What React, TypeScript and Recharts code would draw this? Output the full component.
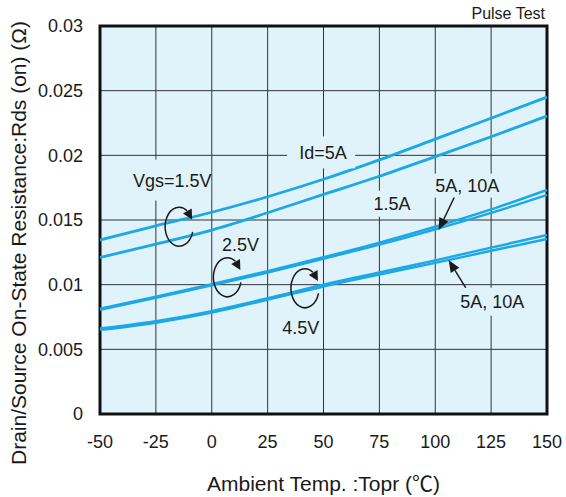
import React from 'react';
import {
  LineChart,
  Line,
  XAxis,
  YAxis,
  CartesianGrid,
  ReferenceArea,
  ReferenceDot,
  ReferenceLine,
  Label,
} from 'recharts';

// ambient temperature (°C)
const temps = [-50, -25, 0, 25, 50, 75, 100, 125, 150];

// Rds(on) in ohm
const vgs15Id5 = [0.01345, 0.01455, 0.0156, 0.0168, 0.01815, 0.01965, 0.02125, 0.02287, 0.0245];
const vgs15Id15 = [0.0121, 0.01314, 0.01422, 0.01556, 0.01698, 0.01838, 0.0199, 0.02144, 0.02304];
const vgs25Id10 = [0.00815, 0.00908, 0.01004, 0.01105, 0.01212, 0.01325, 0.01448, 0.01582, 0.01732];
const vgs25Id5 = [0.00805, 0.00898, 0.00994, 0.01094, 0.012, 0.01309, 0.01428, 0.01555, 0.01695];
const vgs45Id10 = [0.00662, 0.00718, 0.00796, 0.00895, 0.01, 0.01094, 0.01188, 0.01286, 0.01384];
const vgs45Id5 = [0.0065, 0.00706, 0.00784, 0.00883, 0.00986, 0.01078, 0.01168, 0.01262, 0.01353];

const xTicks = [-50, -25, 0, 25, 50, 75, 100, 125, 150];
const yTicks = [0, 0.005, 0.01, 0.015, 0.02, 0.025, 0.03];

const data = temps.map((t, i) => ({
  t,
  a: vgs15Id5[i],
  b: vgs15Id15[i],
  c: vgs25Id10[i],
  d: vgs25Id5[i],
  e: vgs45Id10[i],
  f: vgs45Id5[i],
}));

const BG = '#e0f3fa';
const BLUE = '#1aa8e6';
const INK = '#1a1a1a';
const FONT = '"Liberation Sans", Arial, Helvetica, sans-serif';

// text tag with a patch of background behind it (hides grid lines)
const tag = (text: string, w: number, h: number, padL: number, size = 18) => (p: any) => {
  const { cx, cy } = p;
  return (
    <g>
      <rect x={cx - padL} y={cy - h / 2} width={w} height={h} fill={BG} />
      <text x={cx} y={cy} dy="0.36em" fontSize={size} fill={INK} fontFamily={FONT}>
        {text}
      </text>
    </g>
  );
};

// circular "loop" arrow around a bundle of curves
const loop = (p: any) => {
  const { cx, cy } = p;
  const rx = 14;
  const ry = 19.5;
  const pt = (deg: number) => {
    const r = (deg * Math.PI) / 180;
    return [cx + rx * Math.cos(r), cy + ry * Math.sin(r)];
  };
  const [sx, sy] = pt(15);
  const [ex, ey] = pt(305);
  const [tx, ty] = pt(338);
  const [bx, by] = pt(306);
  const dx = tx - bx;
  const dy = ty - by;
  const len = Math.hypot(dx, dy);
  const nx = (-dy / len) * 5;
  const ny = (dx / len) * 5;
  return (
    <g>
      <path d={`M${sx},${sy} A${rx},${ry} 0 1 1 ${ex},${ey}`} fill="none" stroke={INK} strokeWidth={1.5} />
      <polygon points={`${tx},${ty} ${bx + nx},${by + ny} ${bx - nx},${by - ny}`} fill={INK} />
    </g>
  );
};

const arrow = (p: any) => {
  const { x1, y1, x2, y2 } = p;
  const dx = x2 - x1;
  const dy = y2 - y1;
  const len = Math.hypot(dx, dy);
  const ux = dx / len;
  const uy = dy / len;
  const bx = x2 - ux * 12;
  const by = y2 - uy * 12;
  return (
    <g>
      <line x1={x1} y1={y1} x2={bx} y2={by} stroke={INK} strokeWidth={1.5} />
      <polygon
        points={`${x2},${y2} ${bx - uy * 5},${by + ux * 5} ${bx + uy * 5},${by - ux * 5}`}
        fill={INK}
      />
    </g>
  );
};

const pulseTest = (p: any) => (
  <text x={p.cx - 2} y={p.cy - 7} textAnchor="end" fontSize={16} fill={INK} fontFamily={FONT}>
    Pulse Test
  </text>
);

const YTitle = (props: any) => {
  const { viewBox } = props;
  const x = 18;
  const y = viewBox.y + viewBox.height / 2 + 23;
  return (
    <text
      x={x}
      y={y}
      transform={`rotate(-90, ${x}, ${y})`}
      textAnchor="middle"
      dy="0.36em"
      fontSize={21}
      fill={INK}
      fontFamily={FONT}
    >
      Drain/Source On-State Resistance:Rds (on)  (Ω)
    </text>
  );
};

const XTitle = (props: any) => {
  const { viewBox } = props;
  const x = viewBox.x + viewBox.width / 2;
  const y = 491;
  return (
    <text x={x} y={y} textAnchor="middle" fontSize={21} fill={INK} fontFamily={FONT}>
      Ambient Temp. :Topr  (
      <tspan fontFamily='"Noto Sans CJK JP", sans-serif'>℃</tspan>)
    </text>
  );
};

export default function App() {
  return (
    <div style={{ width: 566, height: 497, background: '#fff', fontFamily: FONT }}>
      <style>{'body{margin:0}'}</style>
      <LineChart width={566} height={497} data={data} margin={{ top: 26, right: 19, bottom: 0, left: 0 }}>
        <CartesianGrid stroke="#333" strokeWidth={1} fill={BG} fillOpacity={1} />
        <XAxis
          type="number"
          dataKey="t"
          domain={[-50, 150]}
          ticks={xTicks}
          axisLine={false}
          tickLine={false}
          tickMargin={15}
          height={83}
          tick={{ fontSize: 18, fill: INK, fontFamily: FONT }}
        >
          <Label content={<XTitle />} />
        </XAxis>
        <YAxis
          type="number"
          domain={[0, 0.03]}
          ticks={yTicks}
          axisLine={false}
          tickLine={false}
          tickMargin={11}
          width={100}
          tick={{ fontSize: 18, fill: INK, fontFamily: FONT }}
          tickFormatter={(v: number) => String(v)}
        >
          <Label content={<YTitle />} />
        </YAxis>

        <ReferenceArea x1={-50} x2={150} y1={0} y2={0.03} fill="none" stroke="#111" strokeWidth={3} />

        <Line type="monotone" dataKey="a" stroke={BLUE} strokeWidth={2.8} dot={false} isAnimationActive={false} />
        <Line type="monotone" dataKey="b" stroke={BLUE} strokeWidth={2.8} dot={false} isAnimationActive={false} />
        <Line type="monotone" dataKey="c" stroke={BLUE} strokeWidth={2.4} dot={false} isAnimationActive={false} />
        <Line type="monotone" dataKey="d" stroke={BLUE} strokeWidth={2.4} dot={false} isAnimationActive={false} />
        <Line type="monotone" dataKey="e" stroke={BLUE} strokeWidth={2.4} dot={false} isAnimationActive={false} />
        <Line type="monotone" dataKey="f" stroke={BLUE} strokeWidth={2.4} dot={false} isAnimationActive={false} />

        <ReferenceDot x={39.1} y={0.02023} r={0} shape={tag('Id=5A', 68, 32, 12)} />
        <ReferenceDot x={-35.2} y={0.01809} r={0} shape={tag('Vgs=1.5V', 83, 41, 5)} />
        <ReferenceDot x={4.6} y={0.01314} r={0} shape={tag('2.5V', 42, 24, 2)} />
        <ReferenceDot x={31.5} y={0.00665} r={0} shape={tag('4.5V', 42, 24, 2)} />
        <ReferenceDot x={72.4} y={0.01626} r={0} shape={tag('1.5A', 46, 26, 5)} />
        <ReferenceDot x={100} y={0.01766} r={0} shape={tag('5A, 10A', 74, 24, 4)} />
        <ReferenceDot x={111.2} y={0.00868} r={0} shape={tag('5A, 10A', 74, 28, 4)} />
        <ReferenceDot x={150} y={0.03} r={0} shape={pulseTest} />

        <ReferenceDot x={-14.6} y={0.01448} r={0} shape={loop} />
        <ReferenceDot x={7.0} y={0.01057} r={0} shape={loop} />
        <ReferenceDot x={41.7} y={0.00972} r={0} shape={loop} />

        <ReferenceLine segment={[{ x: 109, y: 0.01693 }, { x: 101.5, y: 0.01422 }]} shape={arrow} />
        <ReferenceLine segment={[{ x: 113.8, y: 0.00972 }, { x: 106, y: 0.0119 }]} shape={arrow} />
      </LineChart>
    </div>
  );
}
